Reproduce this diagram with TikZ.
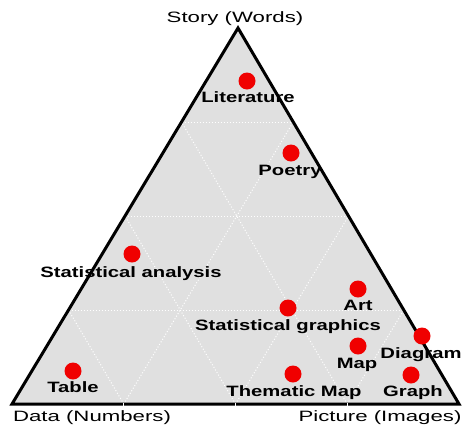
\documentclass[tikz,border=0pt]{standalone}
\usepackage{fontspec}
\setmainfont{Liberation Sans}
\newfontfamily\lblfont{Liberation Sans}[FakeStretch=1.35]
\newfontfamily\cornfont{Liberation Sans}[FakeStretch=1.48]
\usetikzlibrary{calc}
\definecolor{tri}{RGB}{224,224,224}
\definecolor{dotred}{RGB}{240,0,0}
\begin{document}
\begin{tikzpicture}[x=1pt,y=-1pt,
  lbl/.style={font=\lblfont\bfseries\fontsize{15}{18}\selectfont, anchor=base, inner sep=0pt},
  corner/.style={font=\cornfont\fontsize{15}{18}\selectfont, anchor=base, inner sep=0pt},
  pt/.style={circle, fill=dotred, minimum size=17pt, inner sep=0pt},
  gridline/.style={white, line width=1pt, dotted},
  border/.style={black, line width=3pt, line join=miter}]
\useasboundingbox (0,0) rectangle (463,424);
\coordinate (A) at (238,28);
\coordinate (B) at (12,404);
\coordinate (C) at (459,404);
\fill[tri] (A) -- (B) -- (C) -- cycle;
\foreach \k in {0.25,0.5,0.75}{
  \draw[gridline] ($(B)!\k!(C)$) -- ($(B)!\k!(A)$);
  \draw[gridline] ($(C)!\k!(B)$) -- ($(C)!\k!(A)$);
  \draw[gridline] ($(A)!\k!(B)$) -- ($(A)!\k!(C)$);
}
% labels
\node[lbl] (tLit) at (248,102) {Literature};
\node[lbl] (tPoe) at (290,175) {Poetry};
\node[lbl] (tSA)  at (131,277) {Statistical analysis};
\node[lbl] (tArt) at (358,310) {Art};
\node[lbl] (tSG)  at (288,330) {Statistical graphics};
\node[lbl] (tDia) at (421,358) {Diagram};
\node[lbl] (tMap) at (357,368) {Map};
\node[lbl] (tTab) at (73,392) {Table};
\node[lbl] (tTM)  at (294,396) {Thematic Map};
\node[lbl] (tGra) at (413,396) {Graph};
% border
\draw[border] (A) -- (B) -- (C) -- cycle;
\foreach \k in {0.25,0.5,0.75}{
  \coordinate (tk) at ($(B)!\k!(C)$);
  \draw[white, line width=1pt] ($(tk)+(0,-1.5)$) -- ($(tk)+(0,1.5)$);
}
% dots
\node[pt] (dLit) at (247,81) {};
\node[pt] (dPoe) at (291,153) {};
\node[pt] (dSA)  at (132,254) {};
\node[pt] (dArt) at (358,289) {};
\node[pt] (dSG)  at (288,308) {};
\node[pt] (dDia) at (422,336) {};
\node[pt] (dMap) at (358,346) {};
\node[pt] (dTab) at (73,371) {};
\node[pt] (dTM)  at (293,374) {};
\node[pt] (dGra) at (411,375) {};
% corner labels
\node[corner] (story) at (235,22) {Story (Words)};
\node[corner] (data) at (92,421) {Data (Numbers)};
\node[corner] (pic) at (380,421) {Picture (Images)};
\end{tikzpicture}
\end{document}
